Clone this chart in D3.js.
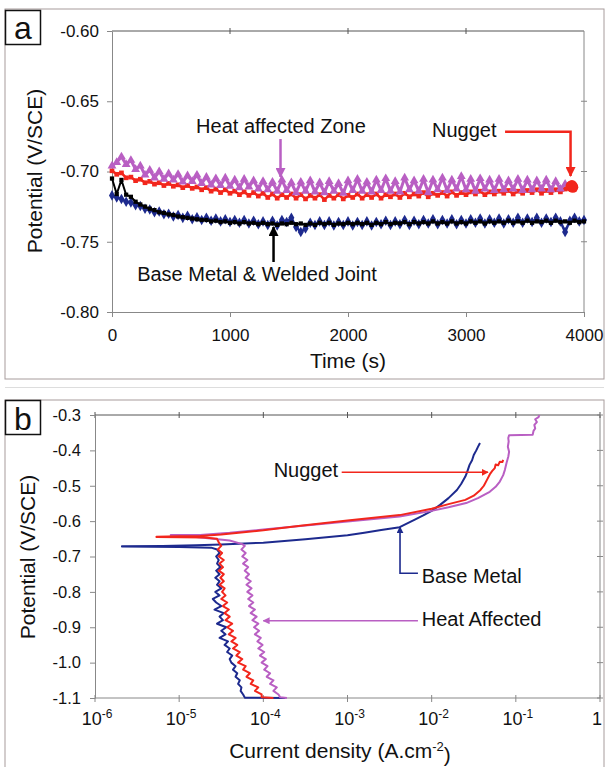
<!DOCTYPE html>
<html><head><meta charset="utf-8">
<script src="https://cdn.jsdelivr.net/npm/d3@7"></script>
<style>
body{margin:0;background:#fff}
text{font-family:"Liberation Sans",Arial,sans-serif;fill:#111}
</style>
</head><body>
<svg id="c" width="605" height="767"></svg>
<script>
// ================= DATA =================
// Panel a: open-circuit potential vs time, sampled every 40 s
const sampleStep = 40; // s
const aXTicks = [0,1000,2000,3000,4000];
const aYTicks = [-0.80,-0.75,-0.70,-0.65,-0.60];

const hazOCP = [-0.6960,-0.6935,-0.6895,-0.6950,-0.6920,-0.6985,-0.6960,-0.7025,-0.6990,-0.7045,
-0.7000,-0.7055,-0.7015,-0.7060,-0.7020,-0.7075,-0.7030,-0.7070,-0.7025,-0.7085,
-0.7040,-0.7095,-0.7050,-0.7100,-0.7045,-0.7105,-0.7060,-0.7115,-0.7055,-0.7110,
-0.7065,-0.7125,-0.7070,-0.7130,-0.7075,-0.7140,-0.7060,-0.7135,-0.7080,-0.7150,
-0.7075,-0.7140,-0.7065,-0.7145,-0.7080,-0.7150,-0.7070,-0.7140,-0.7085,-0.7155,
-0.7065,-0.7135,-0.7055,-0.7140,-0.7075,-0.7145,-0.7060,-0.7135,-0.7050,-0.7140,
-0.7070,-0.7145,-0.7045,-0.7130,-0.7065,-0.7140,-0.7055,-0.7150,-0.7060,-0.7130,
-0.7045,-0.7135,-0.7060,-0.7125,-0.7035,-0.7130,-0.7055,-0.7140,-0.7050,-0.7125,
-0.7060,-0.7135,-0.7055,-0.7130,-0.7065,-0.7125,-0.7055,-0.7135,-0.7060,-0.7130,
-0.7065,-0.7125,-0.7060,-0.7130,-0.7070,-0.7125,-0.7090];

const nuggetOCP = [-0.6995,-0.7020,-0.7010,-0.7045,-0.7040,-0.7065,-0.7055,-0.7080,-0.7070,-0.7090,
-0.7080,-0.7100,-0.7085,-0.7105,-0.7095,-0.7115,-0.7100,-0.7120,-0.7110,-0.7130,
-0.7115,-0.7140,-0.7125,-0.7150,-0.7130,-0.7155,-0.7140,-0.7165,-0.7145,-0.7170,
-0.7150,-0.7175,-0.7155,-0.7185,-0.7160,-0.7190,-0.7165,-0.7185,-0.7160,-0.7190,
-0.7165,-0.7195,-0.7170,-0.7190,-0.7165,-0.7200,-0.7170,-0.7190,-0.7165,-0.7195,
-0.7170,-0.7185,-0.7160,-0.7190,-0.7165,-0.7185,-0.7160,-0.7190,-0.7165,-0.7180,
-0.7160,-0.7185,-0.7155,-0.7180,-0.7160,-0.7175,-0.7150,-0.7180,-0.7155,-0.7170,
-0.7150,-0.7175,-0.7145,-0.7170,-0.7150,-0.7165,-0.7145,-0.7160,-0.7140,-0.7165,
-0.7145,-0.7160,-0.7140,-0.7155,-0.7135,-0.7160,-0.7140,-0.7155,-0.7135,-0.7150,
-0.7130,-0.7155,-0.7135,-0.7150,-0.7130,-0.7145,-0.7125,-0.7115];
const nuggetEnd = [[3890,-0.7105],[3905,-0.7112],[3898,-0.7100]];

const baseOCP = [-0.7170,-0.7185,-0.7195,-0.7215,-0.7220,-0.7240,-0.7245,-0.7265,-0.7270,-0.7290,
-0.7285,-0.7305,-0.7300,-0.7320,-0.7310,-0.7330,-0.7315,-0.7340,-0.7325,-0.7345,
-0.7330,-0.7350,-0.7335,-0.7355,-0.7340,-0.7360,-0.7345,-0.7365,-0.7345,-0.7370,
-0.7350,-0.7375,-0.7355,-0.7380,-0.7350,-0.7385,-0.7345,-0.7360,-0.7330,-0.7395,
-0.7430,-0.7405,-0.7365,-0.7380,-0.7355,-0.7380,-0.7355,-0.7385,-0.7360,-0.7380,
-0.7355,-0.7385,-0.7360,-0.7380,-0.7355,-0.7385,-0.7360,-0.7375,-0.7350,-0.7380,
-0.7355,-0.7375,-0.7345,-0.7380,-0.7350,-0.7375,-0.7345,-0.7370,-0.7340,-0.7375,
-0.7345,-0.7370,-0.7340,-0.7375,-0.7345,-0.7370,-0.7340,-0.7365,-0.7335,-0.7370,
-0.7340,-0.7365,-0.7335,-0.7370,-0.7340,-0.7365,-0.7330,-0.7365,-0.7335,-0.7360,
-0.7330,-0.7365,-0.7335,-0.7360,-0.7330,-0.7355,-0.7430,-0.7350,-0.7330,-0.7355,
-0.7345];

const jointOCP = [-0.7050,-0.7160,-0.7060,-0.7165,-0.7180,-0.7215,-0.7235,-0.7250,-0.7265,-0.7275,
-0.7290,-0.7295,-0.7305,-0.7310,-0.7320,-0.7325,-0.7330,-0.7335,-0.7340,-0.7345,
-0.7345,-0.7355,-0.7350,-0.7360,-0.7355,-0.7365,-0.7360,-0.7370,-0.7360,-0.7370,
-0.7365,-0.7375,-0.7365,-0.7375,-0.7370,-0.7380,-0.7370,-0.7375,-0.7365,-0.7375,
-0.7370,-0.7380,-0.7370,-0.7380,-0.7365,-0.7375,-0.7365,-0.7380,-0.7370,-0.7375,
-0.7365,-0.7375,-0.7365,-0.7375,-0.7365,-0.7380,-0.7365,-0.7375,-0.7360,-0.7375,
-0.7365,-0.7370,-0.7360,-0.7375,-0.7360,-0.7370,-0.7360,-0.7370,-0.7355,-0.7370,
-0.7360,-0.7370,-0.7355,-0.7370,-0.7360,-0.7370,-0.7355,-0.7365,-0.7355,-0.7370,
-0.7355,-0.7365,-0.7355,-0.7365,-0.7350,-0.7365,-0.7355,-0.7365,-0.7350,-0.7365,
-0.7355,-0.7360,-0.7350,-0.7365,-0.7350,-0.7360,-0.7355,-0.7365,-0.7350,-0.7360,
-0.7355];

// Panel b: polarization curves, pairs [potential V/SCE, log10(current density A/cm2)]
const bYTicks = [-1.1,-1.0,-0.9,-0.8,-0.7,-0.6,-0.5,-0.4,-0.3];
const bXTicks = [1e-6,1e-5,1e-4,1e-3,1e-2,1e-1,1];
const bXExp = ["-6","-5","-4","-3","-2","-1",null];

const baseCath = [[-1.100,-3.74],[-1.099,-4.22],[-1.09,-4.24],[-1.08,-4.27],[-1.07,-4.26],[-1.06,-4.30],[-1.05,-4.28],[-1.04,-4.33],[-1.03,-4.31],[-1.02,-4.36],[-1.01,-4.33],[-1.00,-4.38],[-0.99,-4.40],[-0.98,-4.37],[-0.97,-4.43],[-0.96,-4.40],[-0.95,-4.46],[-0.94,-4.42],[-0.93,-4.52],[-0.92,-4.45],[-0.91,-4.50],[-0.90,-4.44],[-0.89,-4.55],[-0.88,-4.48],[-0.87,-4.52],[-0.86,-4.47],[-0.85,-4.58],[-0.84,-4.50],[-0.83,-4.56],[-0.82,-4.60],[-0.81,-4.52],[-0.80,-4.57],[-0.79,-4.50],[-0.78,-4.55],[-0.77,-4.52],[-0.76,-4.57],[-0.75,-4.52],[-0.74,-4.56],[-0.73,-4.51],[-0.72,-4.55],[-0.71,-4.53],[-0.70,-4.56],[-0.69,-4.52],[-0.68,-4.55],[-0.675,-4.62],[-0.673,-5.0],[-0.672,-5.68]];
const baseAnod = [[-0.671,-5.68],[-0.670,-5.2],[-0.668,-4.8],[-0.666,-4.5],[-0.661,-4.0],[-0.651,-3.5],[-0.640,-3.0],[-0.633,-2.8],[-0.625,-2.6],[-0.617,-2.38],[-0.596,-2.2],[-0.584,-2.1],[-0.571,-2.0],[-0.554,-1.9],[-0.535,-1.8],[-0.512,-1.7],[-0.495,-1.65],[-0.474,-1.6],[-0.462,-1.58],[-0.441,-1.55],[-0.428,-1.52],[-0.413,-1.5],[-0.400,-1.47],[-0.390,-1.45],[-0.379,-1.426]];

const nuggetCath = [[-1.100,-3.88],[-1.098,-4.02],[-1.09,-4.02],[-1.08,-4.10],[-1.07,-4.06],[-1.06,-4.15],[-1.05,-4.12],[-1.04,-4.20],[-1.03,-4.16],[-1.02,-4.24],[-1.01,-4.21],[-1.00,-4.30],[-0.99,-4.25],[-0.98,-4.32],[-0.97,-4.28],[-0.96,-4.36],[-0.95,-4.31],[-0.94,-4.38],[-0.93,-4.33],[-0.92,-4.41],[-0.91,-4.36],[-0.90,-4.43],[-0.89,-4.37],[-0.88,-4.45],[-0.87,-4.40],[-0.86,-4.46],[-0.85,-4.41],[-0.84,-4.48],[-0.83,-4.43],[-0.82,-4.50],[-0.81,-4.45],[-0.80,-4.49],[-0.79,-4.46],[-0.78,-4.52],[-0.77,-4.47],[-0.76,-4.51],[-0.75,-4.47],[-0.74,-4.53],[-0.73,-4.48],[-0.72,-4.52],[-0.71,-4.47],[-0.70,-4.53],[-0.69,-4.49],[-0.68,-4.54],[-0.67,-4.50],[-0.66,-4.53],[-0.65,-4.55],[-0.646,-4.7],[-0.645,-5.27]];
const nuggetAnod = [[-0.644,-5.27],[-0.643,-5.0],[-0.642,-4.75],[-0.638,-4.5],[-0.626,-4.0],[-0.613,-3.56],[-0.598,-3.0],[-0.583,-2.38],[-0.565,-2.0],[-0.552,-1.8],[-0.540,-1.6],[-0.528,-1.5],[-0.512,-1.42],[-0.500,-1.38],[-0.482,-1.34],[-0.468,-1.31],[-0.458,-1.28],[-0.450,-1.25],[-0.440,-1.24],[-0.442,-1.21],[-0.432,-1.19],[-0.433,-1.16],[-0.427,-1.15]];

const hazCath = [[-1.100,-3.72],[-1.098,-3.80],[-1.09,-3.82],[-1.08,-3.88],[-1.07,-3.84],[-1.06,-3.92],[-1.05,-3.88],[-1.04,-3.96],[-1.03,-3.92],[-1.02,-3.99],[-1.01,-3.95],[-1.00,-4.02],[-0.99,-3.97],[-0.98,-4.04],[-0.97,-3.99],[-0.96,-4.06],[-0.95,-4.01],[-0.94,-4.07],[-0.93,-4.03],[-0.92,-4.10],[-0.91,-4.05],[-0.90,-4.11],[-0.89,-4.06],[-0.88,-4.13],[-0.87,-4.08],[-0.86,-4.15],[-0.85,-4.10],[-0.84,-4.17],[-0.83,-4.12],[-0.82,-4.18],[-0.81,-4.13],[-0.80,-4.19],[-0.79,-4.14],[-0.78,-4.20],[-0.77,-4.15],[-0.76,-4.21],[-0.75,-4.17],[-0.74,-4.22],[-0.73,-4.18],[-0.72,-4.24],[-0.71,-4.19],[-0.70,-4.25],[-0.69,-4.21],[-0.68,-4.26],[-0.67,-4.22],[-0.665,-4.25],[-0.655,-4.4],[-0.645,-4.8],[-0.640,-5.1]];
const hazAnod = [[-0.639,-5.1],[-0.639,-4.75],[-0.633,-4.4],[-0.624,-4.0],[-0.614,-3.56],[-0.601,-3.0],[-0.587,-2.38],[-0.571,-2.0],[-0.561,-1.8],[-0.549,-1.59],[-0.535,-1.45],[-0.517,-1.31],[-0.503,-1.24],[-0.488,-1.19],[-0.470,-1.15],[-0.455,-1.13],[-0.435,-1.11],[-0.418,-1.09],[-0.404,-1.08],[-0.390,-1.095],[-0.375,-1.085],[-0.365,-1.09],[-0.357,-1.08],[-0.356,-0.80],[-0.345,-0.79],[-0.338,-0.77],[-0.328,-0.78],[-0.320,-0.75],[-0.312,-0.77],[-0.306,-0.73],[-0.300,-0.72]];

// ================= DRAWING =================
const C = {mag:"#b95fc3", red:"#f2261c", blue:"#1d2a8e", black:"#000"};
const svg = d3.select("#c");
const defs = svg.append("defs");
function arrowMarker(id,color,size){
  defs.append("marker").attr("id",id).attr("viewBox","0 0 10 10").attr("refX",9).attr("refY",5)
    .attr("markerWidth",size).attr("markerHeight",size).attr("markerUnits","userSpaceOnUse").attr("orient","auto")
    .append("path").attr("d","M0,0L10,5L0,10z").attr("fill",color);
}
arrowMarker("amag",C.mag,10); arrowMarker("ared",C.red,10); arrowMarker("ablk",C.black,10);
arrowMarker("bred",C.red,7); arrowMarker("bblue",C.blue,7); arrowMarker("bmag",C.mag,7);

// frames
svg.append("rect").attr("x",5).attr("y",9).attr("width",599).attr("height",370).attr("fill","none").attr("stroke","#a79c9c");
svg.append("line").attr("x1",5).attr("x2",604).attr("y1",387.5).attr("y2",387.5).attr("stroke","#ddd");
svg.append("rect").attr("x",5).attr("y",400).attr("width",599).attr("height",380).attr("fill","none").attr("stroke","#a79c9c");
// panel letters
[["a",10,38.5],["b",400,430]].forEach(([l,y0,bl])=>{
  svg.append("rect").attr("x",5.5).attr("y",y0+0.5).attr("width",35).attr("height",34).attr("fill","#fff").attr("stroke","#111").attr("stroke-width",1.5);
  svg.append("text").attr("x",23).attr("y",bl).attr("text-anchor","middle").attr("font-size",32).text(l);
});

function styleAxis(g,fs){
  g.attr("font-size",null).attr("font-family",null);
  g.selectAll("path.domain").attr("stroke","#888");
  g.selectAll(".tick line").attr("stroke","#888");
  g.selectAll("text").attr("font-size",fs).attr("fill","#111");
}

// ---------- Panel a ----------
const xa = d3.scaleLinear().domain([0,4000]).range([112,584]);
const ya = d3.scaleLinear().domain([-0.80,-0.60]).range([312,31]);
const ga = svg.append("g");
ga.append("line").attr("x1",xa(0)).attr("x2",xa(4000)).attr("y1",ya(-0.60)).attr("y2",ya(-0.60)).attr("stroke","#555");
ga.append("line").attr("x1",xa(4000)).attr("x2",xa(4000)).attr("y1",ya(-0.60)).attr("y2",ya(-0.80)).attr("stroke","#888");
aXTicks.slice(1,-1).forEach(t=>ga.append("line").attr("x1",xa(t)).attr("x2",xa(t)).attr("y1",ya(-0.60)-3).attr("y2",ya(-0.60)+3).attr("stroke","#555"));
aYTicks.slice(1,-1).forEach(v=>ga.append("line").attr("x1",xa(4000)-3).attr("x2",xa(4000)+3).attr("y1",ya(v)).attr("y2",ya(v)).attr("stroke","#888"));
ga.append("g").attr("transform",`translate(0,${ya(-0.80)})`)
  .call(d3.axisBottom(xa).tickValues(aXTicks).tickSize(5).tickSizeOuter(0).tickPadding(12).tickFormat(d=>String(d)))
  .call(g=>styleAxis(g,17));
ga.append("g").attr("transform",`translate(${xa(0)},0)`)
  .call(d3.axisLeft(ya).tickValues(aYTicks).tickSize(5).tickSizeOuter(0).tickPadding(8).tickFormat(d=>d.toFixed(2)))
  .call(g=>styleAxis(g,17));
ga.append("text").attr("x",348).attr("y",368).attr("text-anchor","middle").attr("font-size",21).text("Time (s)");
ga.append("text").attr("transform","translate(42,171) rotate(-90)").attr("text-anchor","middle").attr("font-size",21).text("Potential (V/SCE)");

function ocpSeries(vals,color,sym,size,lw){
  const pts = vals.map((v,i)=>[i*sampleStep,v]);
  const g = ga.append("g");
  g.append("path").datum(pts).attr("fill","none").attr("stroke",color).attr("stroke-width",lw)
    .attr("stroke-linejoin","round").attr("d",d3.line().x(d=>xa(d[0])).y(d=>ya(d[1])));
  const s = d3.symbol().type(sym).size(size);
  g.selectAll("path.m").data(pts).join("path").attr("class","m").attr("fill",color)
    .attr("transform",d=>`translate(${xa(d[0])},${ya(d[1])})`).attr("d",s);
}
ocpSeries(nuggetOCP,C.red,d3.symbolSquare,22,2.5);
ocpSeries(hazOCP,C.mag,d3.symbolTriangle,34,3);
ocpSeries(baseOCP,C.blue,d3.symbolDiamond,32,2.5);
ocpSeries(jointOCP,C.black,d3.symbolSquare,18,2);
ga.selectAll("circle.end").data(nuggetEnd).join("circle").attr("class","end")
  .attr("cx",d=>xa(d[0])).attr("cy",d=>ya(d[1])).attr("r",5.5).attr("fill",C.red);

// annotations a
ga.append("text").attr("x",xa(1432)).attr("y",ya(-0.6726)).attr("text-anchor","middle").attr("font-size",20).text("Heat affected Zone");
ga.append("line").attr("x1",xa(1428)).attr("x2",xa(1428)).attr("y1",ya(-0.6769)).attr("y2",ya(-0.7039))
  .attr("stroke",C.mag).attr("stroke-width",2.5).attr("marker-end","url(#amag)");
ga.append("text").attr("x",xa(2712)).attr("y",ya(-0.6754)).attr("font-size",20).text("Nugget");
ga.append("path").attr("d",`M${xa(3331)},${ya(-0.6717)}H${xa(3886)}V${ya(-0.7032)}`).attr("fill","none")
  .attr("stroke",C.red).attr("stroke-width",2.5).attr("marker-end","url(#ared)");
ga.append("text").attr("x",xa(1229)).attr("y",ya(-0.7779)).attr("text-anchor","middle").attr("font-size",20).text("Base Metal & Welded Joint");
ga.append("line").attr("x1",xa(1369)).attr("x2",xa(1369)).attr("y1",ya(-0.7644)).attr("y2",ya(-0.7395))
  .attr("stroke",C.black).attr("stroke-width",2.5).attr("marker-end","url(#ablk)");

// ---------- Panel b ----------
const xb = d3.scaleLog().domain([1e-6,1]).range([95,600]);
const yb = d3.scaleLinear().domain([-1.1,-0.3]).range([698,415]);
const gb = svg.append("g");
gb.append("line").attr("x1",xb(1e-6)).attr("x2",xb(1)).attr("y1",yb(-0.3)).attr("y2",yb(-0.3)).attr("stroke","#555");
gb.append("line").attr("x1",xb(1)).attr("x2",xb(1)).attr("y1",yb(-0.3)).attr("y2",yb(-1.1)).attr("stroke","#888");
bXTicks.forEach(t=>{
  gb.append("line").attr("x1",xb(t)).attr("x2",xb(t)).attr("y1",yb(-0.3)-3).attr("y2",yb(-0.3)+3).attr("stroke","#555");
  gb.append("line").attr("x1",xb(t)).attr("x2",xb(t)).attr("y1",yb(-1.1)-3).attr("y2",yb(-1.1)+4).attr("stroke","#888");
});
bYTicks.forEach(v=>gb.append("line").attr("x1",xb(1)-3).attr("x2",xb(1)+3).attr("y1",yb(v)).attr("y2",yb(v)).attr("stroke","#888"));
gb.append("line").attr("x1",xb(1e-6)).attr("x2",xb(1)).attr("y1",yb(-1.1)).attr("y2",yb(-1.1)).attr("stroke","#888");
gb.append("g").attr("transform",`translate(${xb(1e-6)},0)`)
  .call(d3.axisLeft(yb).tickValues(bYTicks).tickSize(5).tickSizeOuter(0).tickPadding(9).tickFormat(d=>d.toFixed(1)))
  .call(g=>styleAxis(g,16.5));
bXTicks.forEach((t,i)=>{
  const tx = gb.append("text").attr("y",725).attr("font-size",18);
  if(bXExp[i]===null){ tx.attr("x",xb(t)-3).attr("text-anchor","middle").text("1"); }
  else { tx.attr("x",xb(t)+2).attr("text-anchor","middle");
    tx.append("tspan").text("10"); tx.append("tspan").attr("dy","-0.55em").attr("font-size",12).text(bXExp[i]); }
});
const xt = gb.append("text").attr("x",340).attr("y",758).attr("text-anchor","middle").attr("font-size",21);
xt.append("tspan").text("Current density (A.cm");
xt.append("tspan").attr("dy","-0.55em").attr("font-size",13).text("-2");
xt.append("tspan").attr("dy","0.55em").text(")");
gb.append("text").attr("transform","translate(35,557) rotate(-90)").attr("text-anchor","middle").attr("font-size",21).text("Potential (V/SCE)");

const lineB = d3.line().x(d=>xb(Math.pow(10,d[1]))).y(d=>yb(d[0]));
[[baseCath,baseAnod,C.blue],[hazCath,hazAnod,C.mag],[nuggetCath,nuggetAnod,C.red]].forEach(([c,a,col])=>{
  gb.append("path").datum(c.concat(a)).attr("fill","none").attr("stroke",col).attr("stroke-width",2)
    .attr("stroke-linejoin","round").attr("d",lineB);
});

// annotations b (in data coordinates: log10 i, potential)
const P = (lg,E)=>[xb(Math.pow(10,lg)),yb(E)];
let p;
p=P(-3.877,-0.4744); gb.append("text").attr("x",p[0]).attr("y",p[1]).attr("font-size",20).text("Nugget");
{const a=P(-3.069,-0.462), b=P(-1.331,-0.462);
 gb.append("line").attr("x1",a[0]).attr("y1",a[1]).attr("x2",b[0]).attr("y2",b[1]).attr("stroke",C.red).attr("stroke-width",1.6).attr("marker-end","url(#bred)");}
p=P(-2.118,-0.7738); gb.append("text").attr("x",p[0]).attr("y",p[1]).attr("font-size",20).text("Base Metal");
{const a=P(-2.163,-0.7475), b=P(-2.376,-0.7475), c=P(-2.376,-0.6166);
 gb.append("path").attr("d",`M${a}L${b}L${c}`).attr("fill","none").attr("stroke",C.blue).attr("stroke-width",1.6).attr("marker-end","url(#bblue)");}
p=P(-2.118,-0.8965); gb.append("text").attr("x",p[0]).attr("y",p[1]).attr("font-size",20).text("Heat Affected");
{const a=P(-2.163,-0.8815), b=P(-4.0,-0.8815);
 gb.append("line").attr("x1",a[0]).attr("y1",a[1]).attr("x2",b[0]).attr("y2",b[1]).attr("stroke",C.mag).attr("stroke-width",1.6).attr("marker-end","url(#bmag)");}
</script>
</body></html>
